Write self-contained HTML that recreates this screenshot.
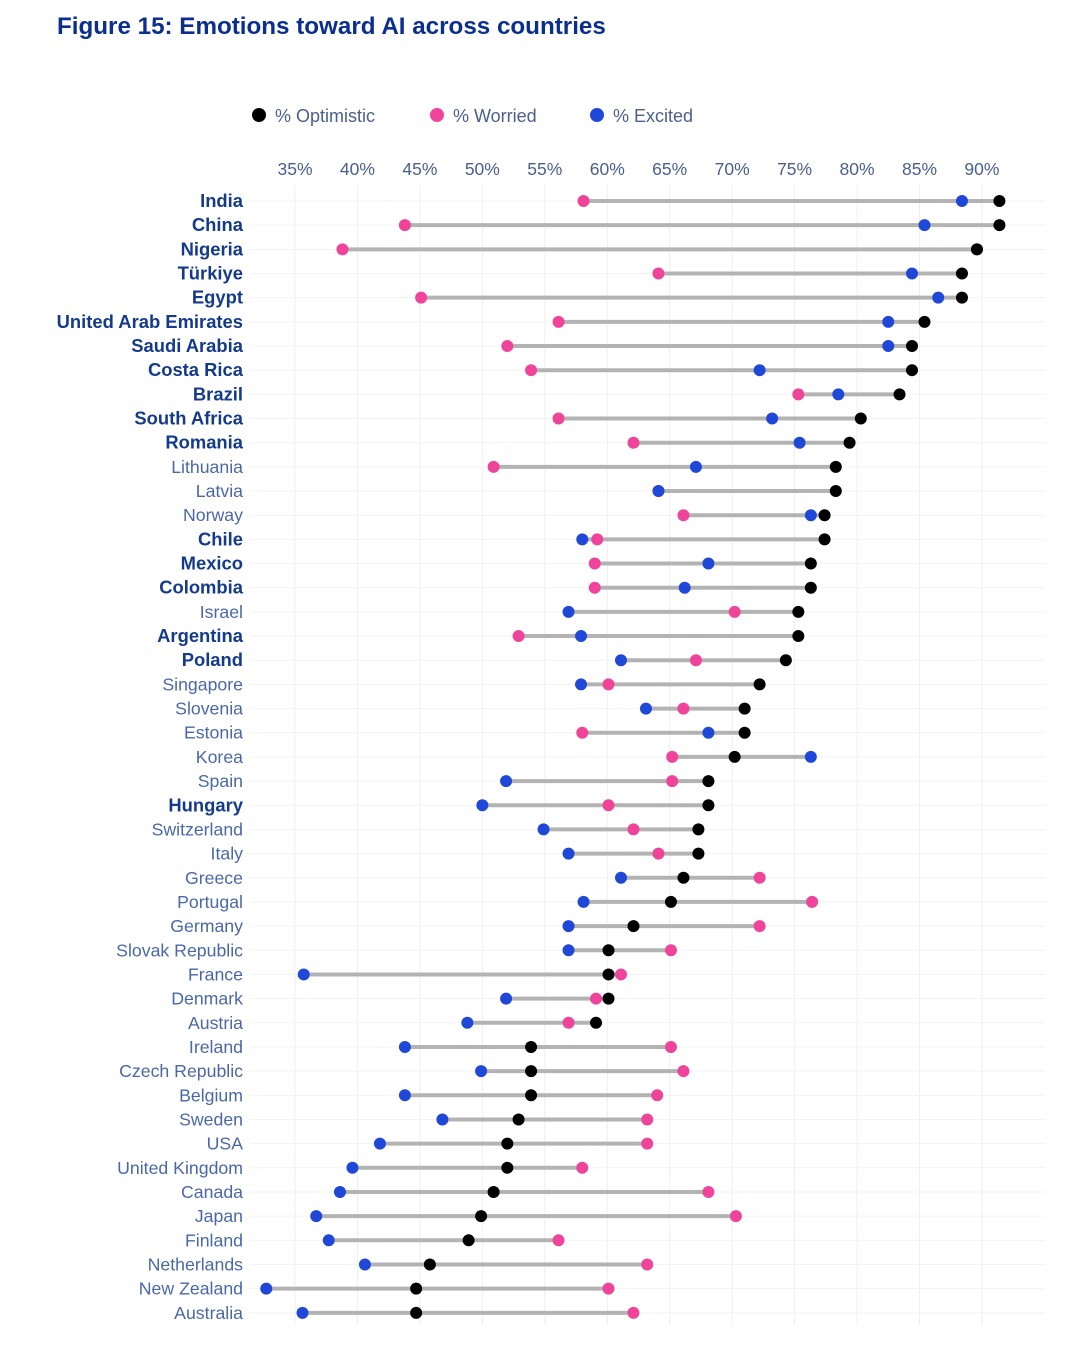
<!DOCTYPE html>
<html><head><meta charset="utf-8"><style>
body{margin:0;background:#fff;}
svg text{font-family:"Liberation Sans",Arial,sans-serif;}
</style></head><body>
<svg id="chart" width="1080" height="1346" xmlns="http://www.w3.org/2000/svg">
<text x="57" y="34" font-size="24.2" font-weight="bold" fill="#0b2f8f">Figure 15: Emotions toward AI across countries</text>
<g id="legend">
<g><circle cx="259" cy="115" r="7" fill="#000"/><text x="275" y="122" font-size="18" fill="#4a5f8f">% Optimistic</text></g>
<g><circle cx="437" cy="115" r="7" fill="#f0449a"/><text x="453" y="122" font-size="18" fill="#4a5f8f">% Worried</text></g>
<g><circle cx="597" cy="115" r="7" fill="#2048d8"/><text x="613" y="122" font-size="18" fill="#4a5f8f">% Excited</text></g>
</g>
<g id="grid"></g><g id="ticks"></g><g id="rows"></g>
</svg>
<script>
const countries=["India","China","Nigeria","Türkiye","Egypt","United Arab Emirates","Saudi Arabia","Costa Rica","Brazil","South Africa","Romania","Lithuania","Latvia","Norway","Chile","Mexico","Colombia","Israel","Argentina","Poland","Singapore","Slovenia","Estonia","Korea","Spain","Hungary","Switzerland","Italy","Greece","Portugal","Germany","Slovak Republic","France","Denmark","Austria","Ireland","Czech Republic","Belgium","Sweden","USA","United Kingdom","Canada","Japan","Finland","Netherlands","New Zealand","Australia"];
const boldCountries=["India","China","Nigeria","Türkiye","Egypt","United Arab Emirates","Saudi Arabia","Costa Rica","Brazil","South Africa","Romania","Chile","Mexico","Colombia","Argentina","Poland","Hungary"];
const optimistic=[91.4,91.4,89.6,88.4,88.4,85.4,84.4,84.4,83.4,80.3,79.4,78.3,78.3,77.4,77.4,76.3,76.3,75.3,75.3,74.3,72.2,71.0,71.0,70.2,68.1,68.1,67.3,67.3,66.1,65.1,62.1,60.1,60.1,60.1,59.1,53.9,53.9,53.9,52.9,52.0,52.0,50.9,49.9,48.9,45.8,44.7,44.7];
const worried=[58.1,43.8,38.8,64.1,45.1,56.1,52.0,53.9,75.3,56.1,62.1,50.9,64.1,66.1,59.2,59.0,59.0,70.2,52.9,67.1,60.1,66.1,58.0,65.2,65.2,60.1,62.1,64.1,72.2,76.4,72.2,65.1,61.1,59.1,56.9,65.1,66.1,64.0,63.2,63.2,58.0,68.1,70.3,56.1,63.2,60.1,62.1];
const excited=[88.4,85.4,89.6,84.4,86.5,82.5,82.5,72.2,78.5,73.2,75.4,67.1,64.1,76.3,58.0,68.1,66.2,56.9,57.9,61.1,57.9,63.1,68.1,76.3,51.9,50.0,54.9,56.9,61.1,58.1,56.9,56.9,35.7,51.9,48.8,43.8,49.9,43.8,46.8,41.8,39.6,38.6,36.7,37.7,40.6,32.7,35.6];
const tickValues=[35,40,45,50,55,60,65,70,75,80,85,90];
const tickLabels=["35%","40%","45%","50%","55%","60%","65%","70%","75%","80%","85%","90%"];
const NS="http://www.w3.org/2000/svg";
const xS=v=>295+(v-35)*12.49;
const yS=i=>201+i*24.17;
function mk(tag,attrs,parent){const e=document.createElementNS(NS,tag);for(const k in attrs)e.setAttribute(k,attrs[k]);parent.appendChild(e);return e;}
const grid=document.getElementById('grid'),ticks=document.getElementById('ticks'),rows=document.getElementById('rows');
tickValues.forEach((v,i)=>{
 const l=mk('line',{x1:xS(v),x2:xS(v),y1:185,y2:1325,stroke:'#efefef','stroke-width':1},grid);
 
 
 const t=mk('text',{x:xS(v),y:175,'font-size':17.5,fill:'#4a5f8f','text-anchor':'middle'},ticks);
 t.textContent=tickLabels[i];
 
 
});
countries.forEach((c,i)=>{
 const y=yS(i);
 const g=mk('g',{},rows);
 
 
 const hl=mk('line',{x1:250,x2:1045,y1:y,y2:y,stroke:'#f3f3f3','stroke-width':1},g);
 
 
 const b=boldCountries.includes(c);
 const t=mk('text',{x:243,y:y+6,'font-size':b?18.4:17.7,'text-anchor':'end',fill:b?'#143a8c':'#4a68a8','font-weight':b?'bold':'normal'},g);
 t.textContent=c;
 
 
 const vals=[optimistic[i],worried[i],excited[i]];
 const mn=Math.min(...vals),mx=Math.max(...vals);
 const ln=mk('line',{x1:xS(mn),x2:xS(mx),y1:y,y2:y,stroke:'#b3b3b3','stroke-width':4},g);
 
 
 const w=mk('circle',{cx:xS(worried[i]),cy:y,r:6,fill:'#f0449a'},g);
 
 
 const e=mk('circle',{cx:xS(excited[i]),cy:y,r:6,fill:'#2048d8'},g);
 
 
 const o=mk('circle',{cx:xS(optimistic[i]),cy:y,r:6,fill:'#000'},g);
 
 
});
</script>
</body></html>
